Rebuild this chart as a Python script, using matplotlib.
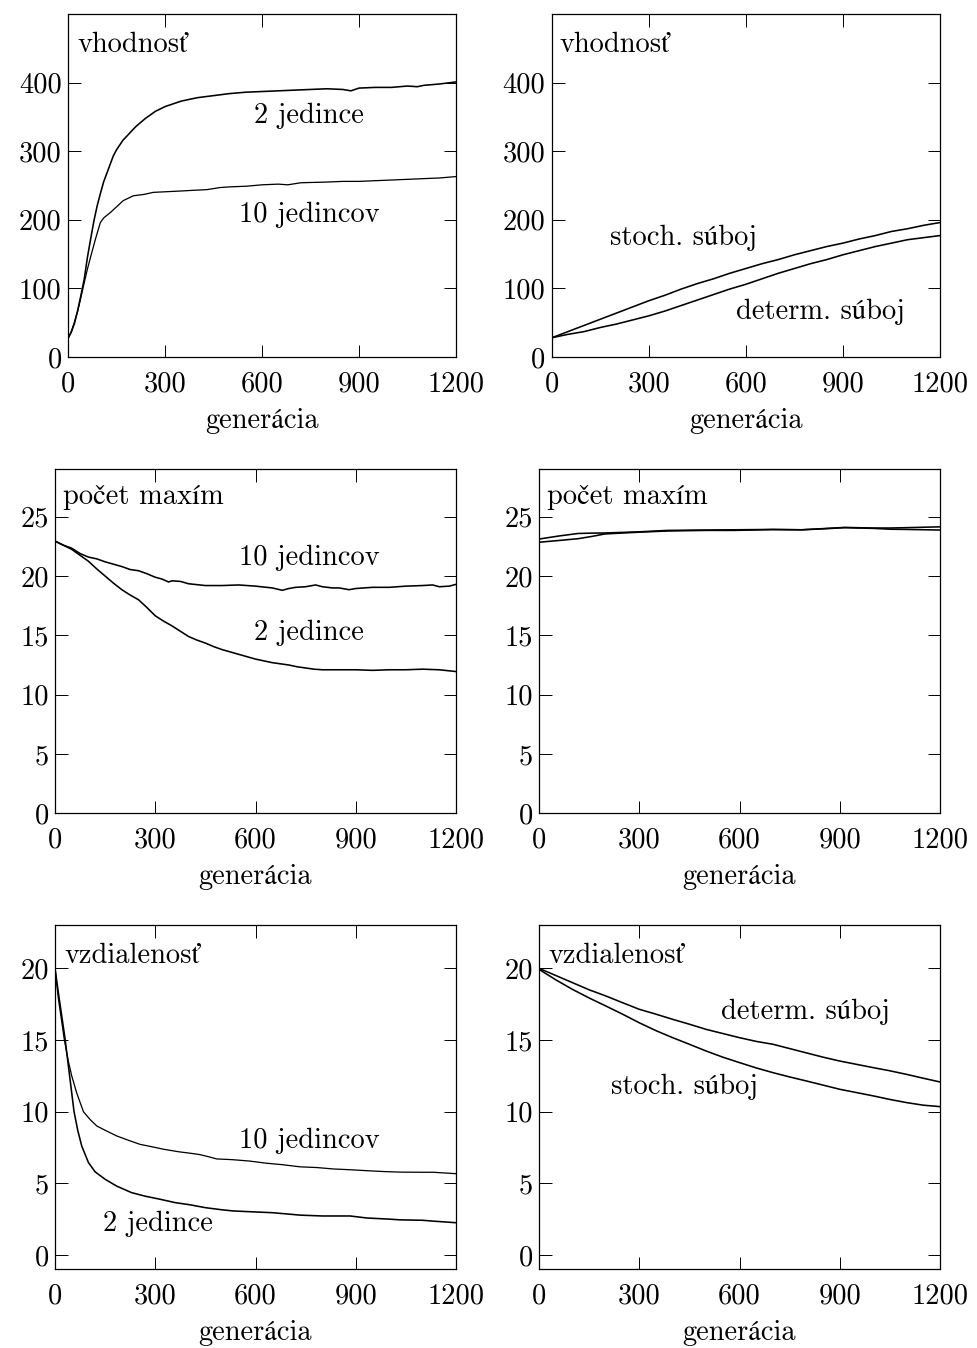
import matplotlib
matplotlib.use("Agg")
import matplotlib.pyplot as plt

plt.rcParams['font.family'] = ['cmr10', 'STIXGeneral']
plt.rcParams['axes.formatter.use_mathtext'] = True
FS = 20.5

# ---------------- data ----------------
# Panel 1: vhodnosť (fitness), 2 vs 10 individuals
p1_2_gen = [0, 10, 20, 30, 40, 50, 60, 70, 80, 90, 100, 110, 125, 140, 150, 170, 190, 210, 240, 270,
            300, 350, 400, 450, 500, 550, 600, 650, 700, 750, 800, 850, 875, 900, 950, 1000, 1050,
            1080, 1100, 1150, 1200]
p1_2_val = [27, 36, 49, 68, 90, 113, 145, 172, 198, 220, 238, 255, 274, 293, 302, 316, 326, 336, 348, 358,
            365, 373, 378, 381, 384, 386, 387, 388, 389, 390, 391, 390, 388, 392, 393, 393, 395,
            394, 396, 398, 401]
p1_10_gen = [0, 10, 20, 30, 40, 50, 60, 70, 85, 100, 111, 132, 171, 202, 235, 264, 307, 350, 388, 430,
             470, 500, 553, 600, 650, 680, 720, 800, 850, 900, 1000, 1050, 1100, 1150, 1200]
p1_10_val = [27, 37, 51, 67, 87, 108, 128, 146, 172, 196, 203, 211, 228, 235, 237, 240, 241, 242, 243, 244,
             247, 248, 249, 251, 252, 251, 254, 255, 256, 256, 258, 259, 260, 261, 263]

# Panel 2: vhodnosť, stochastic vs deterministic tournament
p2_gen = [0, 50, 100, 150, 200, 250, 300, 350, 400, 450, 500, 550, 600, 650, 700, 750, 800, 850,
          900, 950, 1000, 1050, 1100, 1150, 1200]
p2_stoch = [28, 37, 46, 55, 64, 73, 82, 90, 99, 107, 114, 122, 129, 136, 142, 149, 155, 161,
            166, 172, 177, 183, 187, 192, 196]
p2_determ = [28, 33, 37, 43, 48, 54, 60, 67, 75, 83, 91, 99, 106, 114, 122, 129, 136, 142,
             149, 155, 161, 166, 171, 174, 177]

# Panel 3: počet maxím, 2 vs 10 individuals
p3_10_gen = [0, 25, 50, 75, 100, 125, 150, 175, 200, 225, 250, 275, 300, 320, 340, 350, 375, 400, 450,
             500, 550, 600, 650, 680, 700, 720, 750, 780, 800, 830, 850, 880, 900, 950, 1000, 1050,
             1100, 1130, 1150, 1180, 1200]
p3_10_val = [22.95, 22.6, 22.35, 21.9, 21.6, 21.45, 21.2, 21.0, 20.8, 20.55, 20.45, 20.2, 19.9, 19.75,
             19.5, 19.6, 19.55, 19.35, 19.2, 19.2, 19.25, 19.15, 19.0, 18.8, 18.95, 19.05, 19.1, 19.25,
             19.1, 19.0, 19.0, 18.85, 18.95, 19.05, 19.05, 19.15, 19.2, 19.25, 19.1, 19.15, 19.3]
p3_2_gen = [0, 25, 50, 75, 100, 125, 150, 175, 200, 225, 250, 275, 300, 325, 350, 375, 400, 425, 450,
            475, 500, 525, 550, 575, 600, 625, 650, 675, 700, 725, 750, 775, 800, 850, 900, 950, 1000,
            1050, 1100, 1150, 1200]
p3_2_val = [22.95, 22.6, 22.25, 21.75, 21.25, 20.6, 20.0, 19.4, 18.85, 18.4, 18.0, 17.35, 16.65, 16.2,
            15.8, 15.35, 14.9, 14.6, 14.35, 14.05, 13.8, 13.6, 13.4, 13.2, 13.0, 12.85, 12.7, 12.6,
            12.5, 12.35, 12.25, 12.15, 12.1, 12.1, 12.1, 12.05, 12.1, 12.1, 12.15, 12.1, 11.95]

# Panel 4: počet maxím, stochastic vs deterministic
p4_gen = [0, 60, 117, 160, 197, 300, 385, 500, 585, 700, 786, 850, 915, 1000, 1050, 1100, 1200]
p4_a = [23.12, 23.38, 23.59, 23.62, 23.63, 23.73, 23.85, 23.88, 23.9, 23.93, 23.9, 24.0, 24.1,
        24.05, 24.05, 24.08, 24.15]
p4_b = [22.85, 23.0, 23.15, 23.35, 23.55, 23.7, 23.8, 23.85, 23.85, 23.92, 23.9, 23.98, 24.08,
        24.02, 23.95, 23.93, 23.88]

# Panel 5: vzdialenosť, 2 vs 10 individuals
p5_2_gen = [0, 10, 20, 30, 40, 57, 68, 80, 100, 120, 150, 185, 229, 270, 314, 360, 404, 450,
            500, 534, 600, 650, 700, 733, 800, 850, 883, 933, 1000, 1033, 1100, 1132, 1200]
p5_2_val = [20.0, 18.3, 16.7, 15.1, 13.2, 10.0, 8.7, 7.6, 6.45, 5.8, 5.28, 4.8, 4.35, 4.1, 3.89,
            3.65, 3.5, 3.3, 3.15, 3.07, 3.0, 2.95, 2.85, 2.78, 2.72, 2.72, 2.72, 2.58, 2.5, 2.45,
            2.42, 2.36, 2.25]
p5_10_gen = [0, 10, 20, 28, 40, 50, 65, 85, 105, 125, 150, 185, 220, 254, 290, 324, 370, 404, 434, 460,
             484, 530, 583, 633, 680, 733, 783, 833, 880, 933, 983, 1033, 1100, 1132, 1200]
p5_10_val = [20.0, 17.9, 16.3, 15.0, 13.5, 12.5, 11.3, 10.0, 9.45, 9.0, 8.7, 8.3, 8.0, 7.72, 7.55, 7.38,
             7.2, 7.1, 7.0, 6.85, 6.7, 6.65, 6.55, 6.4, 6.3, 6.15, 6.1, 6.0, 5.95, 5.88, 5.82, 5.78,
             5.77, 5.77, 5.67]

# Panel 6: vzdialenosť, stochastic vs deterministic
p6_gen = [0, 50, 100, 150, 200, 250, 300, 350, 400, 450, 500, 550, 600, 650, 700, 750, 800, 850,
          900, 950, 1000, 1050, 1100, 1150, 1200]
p6_determ = [20.0, 19.5, 19.0, 18.5, 18.07, 17.6, 17.14, 16.8, 16.44, 16.1, 15.74, 15.45, 15.16,
             14.9, 14.7, 14.4, 14.1, 13.8, 13.53, 13.3, 13.07, 12.85, 12.6, 12.33, 12.07]
p6_stoch = [19.93, 19.2, 18.53, 17.93, 17.37, 16.8, 16.2, 15.65, 15.16, 14.7, 14.23, 13.8, 13.42,
            13.05, 12.72, 12.42, 12.14, 11.85, 11.56, 11.33, 11.1, 10.85, 10.63, 10.45, 10.35]

xticks = [0, 300, 600, 900, 1200]
yticks_fit = [0, 100, 200, 300, 400]
yticks_max = [0, 5, 10, 15, 20, 25]
yticks_dist = [0, 5, 10, 15, 20]
xlabel = "generácia"

# ---------------- figure ----------------
W, H = 977, 1348
fig = plt.figure(figsize=(W / 100, H / 100), dpi=100)


def make_ax(left, right, top, bottom):
    ax = fig.add_axes([left / W, (H - bottom) / H, (right - left) / W, (bottom - top) / H])
    ax.tick_params(direction='in', length=9, width=0.7, top=True, right=True,
                   labelsize=FS)
    ax.tick_params(axis='x', pad=10)
    ax.tick_params(axis='y', pad=4.5)
    for s in ax.spines.values():
        s.set_linewidth(0.9)
    ax.text(0.5, -71.0 / (bottom - top), xlabel, transform=ax.transAxes,
            ha='center', va='baseline', fontsize=FS)
    return ax


LW = 1.15
axes_geom = [(68, 456, 14, 357), (551.7, 940, 14, 357),
             (55, 456, 469.3, 813.3), (539, 940, 469.3, 813.3),
             (55, 456, 925.3, 1269.3), (539, 940, 925.3, 1269.3)]
axs = [make_ax(*g) for g in axes_geom]

# Panel 1
ax = axs[0]
ax.plot(p1_2_gen, p1_2_val, color='black', lw=LW)
ax.plot(p1_10_gen, p1_10_val, color='black', lw=LW * 0.8)
ax.set_ylim(0, 500)
ax.set_yticks(yticks_fit)
ax.text(28, 444, "vhodnosť", fontsize=FS, va='baseline')
ax.text(575, 341, "2 jedince", fontsize=FS, va='baseline')
ax.text(530, 197, "10 jedincov", fontsize=FS, va='baseline')

# Panel 2
ax = axs[1]
ax.plot(p2_gen, p2_stoch, color='black', lw=LW)
ax.plot(p2_gen, p2_determ, color='black', lw=LW)
ax.set_ylim(0, 500)
ax.set_yticks(yticks_fit)
ax.text(23.5, 444, "vhodnosť", fontsize=FS, va='baseline')
ax.text(180, 163, "stoch. súboj", fontsize=FS, va='baseline')
ax.text(569, 55, "determ. súboj", fontsize=FS, va='baseline')

# Panel 3
ax = axs[2]
ax.plot(p3_10_gen, p3_10_val, color='black', lw=LW)
ax.plot(p3_2_gen, p3_2_val, color='black', lw=LW)
ax.set_ylim(0, 29)
ax.set_yticks(yticks_max)
ax.text(25, 26.04, "počet maxím", fontsize=FS, va='baseline')
ax.text(551, 20.97, "10 jedincov", fontsize=FS, va='baseline')
ax.text(595, 14.64, "2 jedince", fontsize=FS, va='baseline')

# Panel 4
ax = axs[3]
ax.plot(p4_gen, p4_a, color='black', lw=LW)
ax.plot(p4_gen, p4_b, color='black', lw=LW)
ax.set_ylim(0, 29)
ax.set_yticks(yticks_max)
ax.text(25, 26.04, "počet maxím", fontsize=FS, va='baseline')

# Panel 5
ax = axs[4]
ax.plot(p5_2_gen, p5_2_val, color='black', lw=LW)
ax.plot(p5_10_gen, p5_10_val, color='black', lw=LW * 0.8)
ax.set_ylim(-1, 23)
ax.set_yticks(yticks_dist)
ax.text(27, 20.36, "vzdialenosť", fontsize=FS, va='baseline')
ax.text(551, 7.49, "10 jedincov", fontsize=FS, va='baseline')
ax.text(143, 1.68, "2 jedince", fontsize=FS, va='baseline')

# Panel 6
ax = axs[5]
ax.plot(p6_gen, p6_determ, color='black', lw=LW)
ax.plot(p6_gen, p6_stoch, color='black', lw=LW)
ax.set_ylim(-1, 23)
ax.set_yticks(yticks_dist)
ax.text(28, 20.36, "vzdialenosť", fontsize=FS, va='baseline')
ax.text(544, 16.45, "determ. súboj", fontsize=FS, va='baseline')
ax.text(214, 11.21, "stoch. súboj", fontsize=FS, va='baseline')

for ax in axs:
    ax.set_xlim(0, 1200)
    ax.set_xticks(xticks)
    ax.set_xticklabels([str(t) for t in xticks])
    ax.set_yticklabels([str(t) for t in ax.get_yticks()])

fig.savefig("out.png", dpi=100)
